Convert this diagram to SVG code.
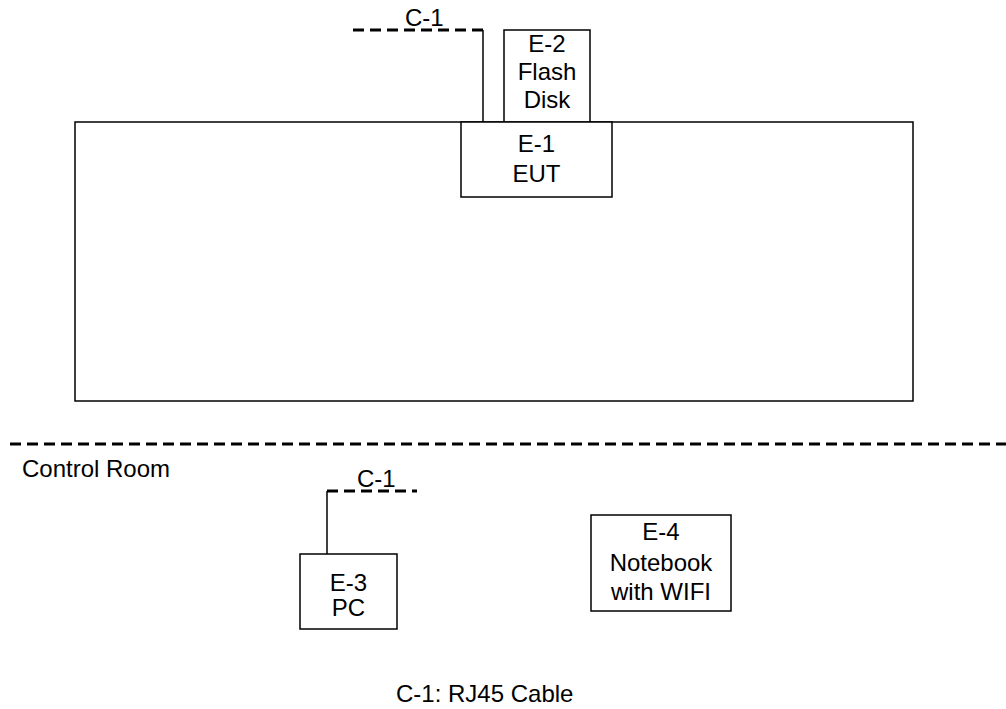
<svg xmlns="http://www.w3.org/2000/svg" width="1006" height="709" viewBox="0 0 1006 709">
  <style>
    .box { fill: #ffffff; stroke: #000000; stroke-width: 1.5; }
    .wire { fill: none; stroke: #000000; stroke-width: 1.5; }
    .dash { fill: none; stroke: #000000; stroke-width: 2.8; stroke-dasharray: 11 6; }
    .lbl { font-family: "Liberation Sans", Arial, sans-serif; font-size: 24px; fill: #000000; }
    .mid { text-anchor: middle; }
  </style>
  <rect width="1006" height="709" fill="#ffffff"/>

  <!-- test area enclosure -->
  <g id="test-area">
    <rect class="box" x="75" y="122" width="838" height="279"/>
  </g>

  <!-- room separator -->
  <g id="separator">
    <line class="dash" x1="10" y1="444" x2="1006" y2="444"/>
    <text class="lbl" x="22" y="477">Control Room</text>
  </g>

  <!-- cables -->
  <g id="connectors">
    <polyline class="wire" points="483,122 483,30"/>
    <line class="dash" x1="353" y1="30" x2="483" y2="30"/>
    <text class="lbl" x="405" y="26">C-1</text>
    <polyline class="wire" points="327,554 327,491"/>
    <line class="dash" x1="327" y1="491" x2="417" y2="491"/>
    <text class="lbl" x="357" y="487">C-1</text>
  </g>

  <g id="E-2">
    <rect class="box" x="504" y="30" width="86" height="92"/>
    <text class="lbl mid" x="547" y="52">E-2</text>
    <text class="lbl mid" x="547" y="80">Flash</text>
    <text class="lbl mid" x="547" y="108">Disk</text>
  </g>

  <g id="E-1">
    <rect class="box" x="461" y="122" width="151" height="75"/>
    <text class="lbl mid" x="536.5" y="152">E-1</text>
    <text class="lbl mid" x="536.5" y="182">EUT</text>
  </g>

  <g id="E-3">
    <rect class="box" x="300" y="554" width="97" height="75"/>
    <text class="lbl mid" x="348.5" y="591">E-3</text>
    <text class="lbl mid" x="348.5" y="616">PC</text>
  </g>

  <g id="E-4">
    <rect class="box" x="591" y="515" width="140" height="96"/>
    <text class="lbl mid" x="661" y="540">E-4</text>
    <text class="lbl mid" x="661" y="571">Notebook</text>
    <text class="lbl mid" x="661" y="600">with WIFI</text>
  </g>

  <g id="legend">
    <text class="lbl" x="396" y="702">C-1: RJ45 Cable</text>
  </g>
</svg>
